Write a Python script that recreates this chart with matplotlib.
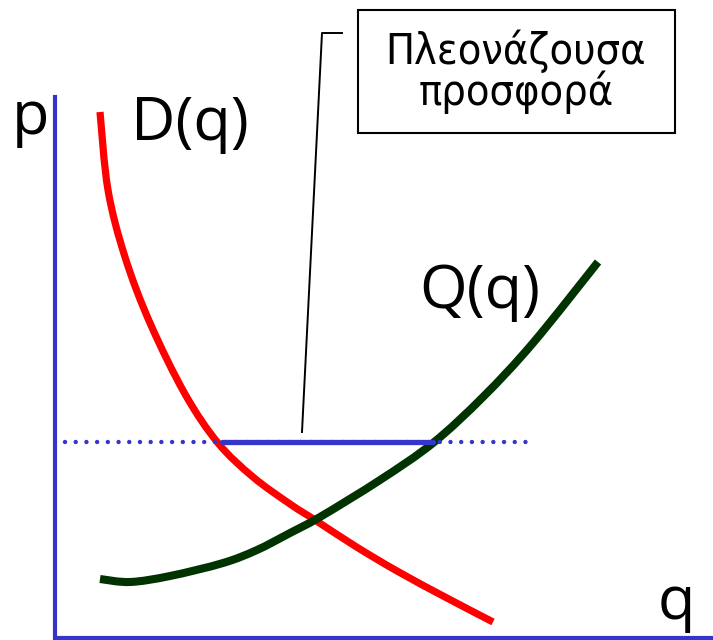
import matplotlib.pyplot as plt
from matplotlib.path import Path
from matplotlib.patches import PathPatch

plt.rcParams['font.family'] = ['Open Sans', 'DejaVu Sans']
plt.rcParams['lines.scale_dashes'] = False

# all positions, in pixel coordinates (y grows downwards)
demand_q = [100, 108, 125, 150, 185, 218, 253, 290, 315, 355, 397, 445, 493]
demand_p = [112, 190, 257, 323, 394, 443, 477, 504, 520, 546, 571, 597, 622]

supply_q = [100, 130, 170, 223, 257, 290, 320, 380, 433, 483, 533, 598]
supply_p = [579, 582, 576, 563, 550, 533, 517, 480, 443, 397, 343, 262]

price_level = 442
dotted_q = [65, 530]
surplus_q = [222, 433]

axis_q = [55, 55, 713]
axis_p = [97, 638, 638]

leader_q = [302, 322, 342]
leader_p = [432, 33, 33]

box_lines = ['Πλεονάζουσα', 'προσφορά']


def smooth_curve(xs, ys):
    # Catmull-Rom through the read points, drawn as cubic Bezier pieces
    pts = list(zip(xs, ys))
    verts = [pts[0]]
    codes = [Path.MOVETO]
    for i in range(len(pts) - 1):
        p0 = pts[max(i - 1, 0)]
        p1 = pts[i]
        p2 = pts[i + 1]
        p3 = pts[min(i + 2, len(pts) - 1)]
        c1 = (p1[0] + (p2[0] - p0[0]) / 6, p1[1] + (p2[1] - p0[1]) / 6)
        c2 = (p2[0] - (p3[0] - p1[0]) / 6, p2[1] - (p3[1] - p1[1]) / 6)
        verts += [c1, c2, p2]
        codes += [Path.CURVE4] * 3
    return Path(verts, codes)


fig = plt.figure(figsize=(7.13, 6.4), dpi=100)
ax = fig.add_axes([0, 0, 1, 1])
ax.set_xlim(0, 713)
ax.set_ylim(640, 0)
ax.axis('off')

blue = '#3535CC'

ax.plot(axis_q, axis_p, color=blue, lw=3, solid_joinstyle='miter')
ax.plot(dotted_q, [price_level] * 2, color=blue, lw=3.2,
        linestyle=(0, (0.01, 7.7)), dash_capstyle='round')
ax.plot(surplus_q, [price_level] * 2, color=blue, lw=3.8, solid_capstyle='round')

ax.add_patch(PathPatch(smooth_curve(demand_q, demand_p), fill=False,
                       edgecolor='#FF0000', lw=5.2, capstyle='butt'))
ax.add_patch(PathPatch(smooth_curve(supply_q, supply_p), fill=False,
                       edgecolor='#003300', lw=5.8, capstyle='butt'))

ax.plot(leader_q, leader_p, color='black', lw=1.4)
ax.add_patch(plt.Rectangle((358, 10), 317, 123, fill=False, edgecolor='black', lw=1.5))
ax.text(516, 64, box_lines[0], ha='center', va='baseline', fontsize=31,
        family='DejaVu Sans', fontstretch='condensed')
ax.text(516, 105, box_lines[1], ha='center', va='baseline', fontsize=31,
        family='DejaVu Sans', fontstretch='condensed')

ax.text(12, 134, 'p', fontsize=44, va='baseline')
ax.text(131, 140, 'D(q)', fontsize=44, va='baseline')
ax.text(419, 308, 'Q(q)', fontsize=44, va='baseline')
ax.text(658, 619, 'q', fontsize=44, va='baseline')

fig.savefig('out.png', dpi=100)
